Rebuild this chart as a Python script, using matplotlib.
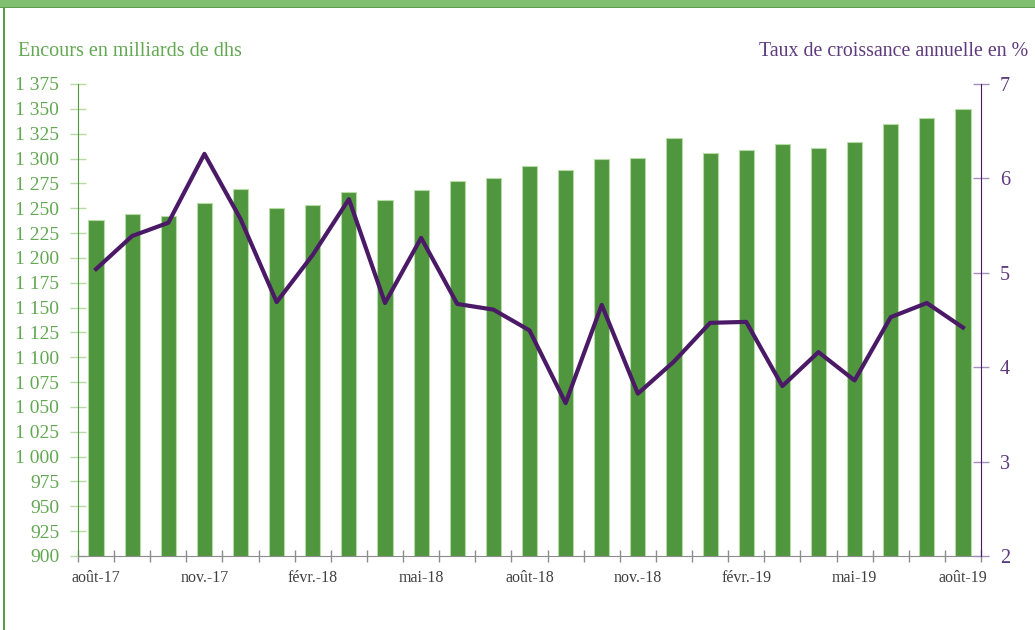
import matplotlib
matplotlib.use("Agg")
import matplotlib.pyplot as plt
from matplotlib.patches import Rectangle
from matplotlib.ticker import FuncFormatter, FixedLocator

# months shown on the axis (every month has a bar)
months = ["août-17", "sept.-17", "oct.-17", "nov.-17", "déc.-17", "janv.-18", "févr.-18",
          "mars-18", "avr.-18", "mai-18", "juin-18", "juil.-18", "août-18", "sept.-18",
          "oct.-18", "nov.-18", "déc.-18", "janv.-19", "févr.-19", "mars-19", "avr.-19",
          "mai-19", "juin-19", "juil.-19", "août-19"]

# encours en milliards de dhs
encours = [1238, 1244, 1242, 1255, 1269, 1250, 1253, 1266, 1258, 1268, 1277, 1280,
           1292, 1288, 1300, 1301, 1321, 1306, 1309, 1315, 1311, 1317, 1335, 1341, 1350]

# taux de croissance annuelle en %
croissance = [5.04, 5.39, 5.53, 6.26, 5.57, 4.69, 5.19, 5.78, 4.68, 5.37, 4.67, 4.61,
              4.39, 3.62, 4.66, 3.72, 4.06, 4.47, 4.48, 3.80, 4.16, 3.86, 4.53, 4.68, 4.42]

BAR_GREEN = "#50963f"
BAR_EDGE = "#b5dca4"
LINE_PURPLE = "#4b1a66"
LABEL_GREEN = "#62a852"
LABEL_PURPLE = "#5d3a7e"

plt.rcParams["font.family"] = ["Liberation Serif", "DejaVu Serif"]

fig = plt.figure(figsize=(10.35, 6.3), dpi=100)
ax = fig.add_axes([78 / 1035, 1 - 556 / 630, (981 - 78) / 1035, (556 - 84) / 630])

x = list(range(len(months)))
ax.bar(x, encours, width=0.42, color=BAR_GREEN, edgecolor=BAR_EDGE, linewidth=0.8, zorder=2)
ax.set_xlim(-0.5, len(months) - 0.5)
ax.set_ylim(900, 1375)
ax.set_yticks(range(900, 1376, 25))
ax.yaxis.set_major_formatter(FuncFormatter(lambda v, p: f"{int(v):,}".replace(",", " ")))
ax.tick_params(axis="y", colors=BAR_EDGE, labelcolor=LABEL_GREEN, direction="inout",
               length=11, width=1, labelsize=14, pad=8)

# x ticks between categories, labels every third month
ax.xaxis.set_major_locator(FixedLocator([i - 0.5 for i in range(len(months) + 1)]))
ax.xaxis.set_major_formatter(FuncFormatter(lambda v, p: ""))
ax.xaxis.set_minor_locator(FixedLocator(x[::3]))
ax.set_xticklabels([months[i] for i in x[::3]], minor=True)
ax.tick_params(axis="x", which="major", colors="#8c8c8c", direction="inout", length=8, width=1)
ax.tick_params(axis="x", which="minor", length=0, labelsize=11.5, labelcolor="#404040", pad=10)

ax.spines["top"].set_visible(False)
ax.spines["right"].set_visible(False)
ax.spines["left"].set_color(BAR_GREEN)
ax.spines["bottom"].set_color("#8c8c8c")

ax2 = ax.twinx()
ax2.plot(x, croissance, color=LINE_PURPLE, linewidth=3, zorder=3)
ax2.set_ylim(2, 7)
ax2.set_yticks(range(2, 8))
ax2.tick_params(axis="y", colors="#a58fbd", labelcolor=LABEL_PURPLE, direction="inout",
                length=11, width=1, labelsize=14.5, pad=8)
ax2.spines["top"].set_visible(False)
ax2.spines["left"].set_visible(False)
ax2.spines["bottom"].set_visible(False)
ax2.spines["right"].set_color(LINE_PURPLE)

fig.text(18 / 1035, 1 - 51 / 630, "Encours en milliards de dhs", color=LABEL_GREEN,
         fontsize=14.5, ha="left", va="center")
fig.text(1028 / 1035, 1 - 52 / 630, "Taux de croissance annuelle en %", color=LABEL_PURPLE,
         fontsize=14.3, ha="right", va="center")

# green frame: thick band on top, thin line on the left
fig.patches.append(Rectangle((0, 1 - 7 / 630), 1, 7 / 630, transform=fig.transFigure,
                             facecolor="#7fbf6f", edgecolor="none"))
fig.patches.append(Rectangle((0, 1 - 8 / 630), 1, 1.5 / 630, transform=fig.transFigure,
                             facecolor="#5a9e4a", edgecolor="none"))
fig.patches.append(Rectangle((3 / 1035, 0), 1.5 / 1035, 1 - 7 / 630, transform=fig.transFigure,
                             facecolor="#5a9e4a", edgecolor="none"))

fig.savefig("out.png", dpi=100)
